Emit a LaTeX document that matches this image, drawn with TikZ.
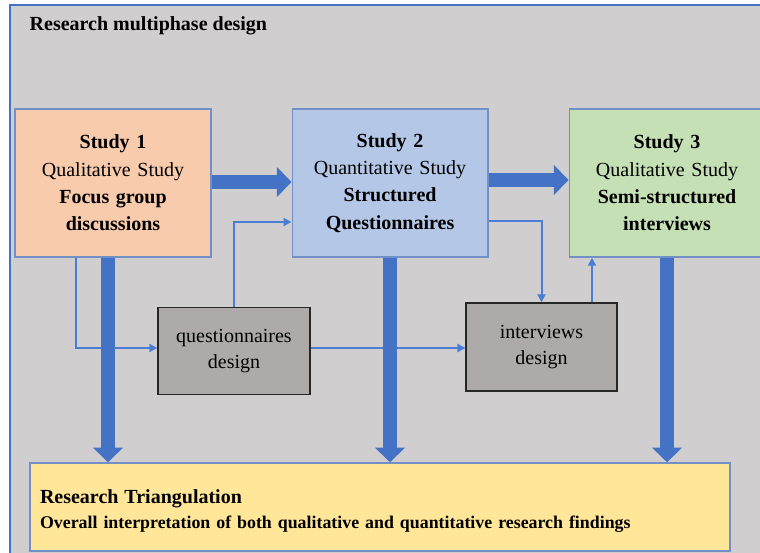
\documentclass[tikz,border=0pt]{standalone}
\usepackage{fontspec}
\setmainfont{Liberation Serif}
\definecolor{panelGray}{HTML}{D0CECE}
\definecolor{frameBlue}{HTML}{4472C4}
\definecolor{edgeBlue}{HTML}{7191C6}
\definecolor{arrowBlue}{HTML}{4472C4}
\definecolor{lineBlue}{HTML}{4A7DD6}
\definecolor{studyOrange}{HTML}{F8CBAD}
\definecolor{studyBlue}{HTML}{B4C7E7}
\definecolor{studyGreen}{HTML}{C5E0B4}
\definecolor{designGray}{HTML}{AEAAAA}
\definecolor{triYellow}{HTML}{FFE699}
\usetikzlibrary{positioning,arrows.meta}

\begin{document}
\begin{tikzpicture}[
  x=0.75pt, y=-0.75pt,
  node distance=60pt,
  study/.style={
    draw=edgeBlue, line width=1.1pt, text width=140pt, align=center,
    minimum width=145.5pt, minimum height=111pt,
    font=\fontsize{15}{20.5}\selectfont
  },
  designbox/.style={
    draw=black!85, fill=designGray, line width=1.1pt, align=center,
    minimum width=114pt, minimum height=65pt,
    font=\fontsize{15}{19}\selectfont
  },
  bigarr/.style={-{Triangle[width=22pt,length=11pt]}, draw=arrowBlue, line width=10.5pt},
  thinarr/.style={-{Triangle[width=6pt,length=6pt]}, draw=lineBlue, line width=1.5pt}
]
  \useasboundingbox (0,0) rectangle (760,553);
  \draw[draw=frameBlue, fill=panelGray, line width=1pt] (10,5) rectangle (775,570);
  \node[anchor=base west, font=\fontsize{15}{18}\selectfont\bfseries] (title) at (25,30) {Research multiphase design};

  \node[study, fill=studyOrange] (s1) at (113,183) {\textbf{Study 1}\\Qualitative Study\\\textbf{Focus group}\\\textbf{discussions}};
  \node[study, fill=studyBlue, right=of s1] (s2) {\textbf{Study 2}\\Quantitative Study\\\textbf{Structured}\\\textbf{Questionnaires}};
  \node[study, fill=studyGreen, right=of s2] (s3) {\textbf{Study 3}\\Qualitative Study\\\textbf{Semi-structured}\\\textbf{interviews}};

  \node[designbox] (qd) at (234,351) {questionnaires\\design};
  \node[designbox, minimum width=113pt, minimum height=66pt] (id) at (541.5,347) {interviews\\design};

  \node[draw=edgeBlue, fill=triYellow, line width=1.1pt, minimum width=525pt, minimum height=66pt,
        text width=510pt, inner xsep=7.5pt, align=left,
        font=\fontsize{13.4}{18.75}\selectfont\bfseries] (tri) at (380,507)
        {{\fontsize{15}{18}\selectfont\rule{0pt}{16.5pt}Research Triangulation}\\Overall interpretation of both qualitative and quantitative research findings};

  % thin links through the design steps
  \draw[thinarr] (s1.south -| 76,0) |- (qd.west |- 0,348);
  \draw[thinarr] (qd.north) |- (s2.west |- 0,222);
  \draw[thinarr] (qd.east |- 0,348) -- (id.west |- 0,348);
  \draw[thinarr] (s2.east |- 0,221) -| (id.north);
  \draw[thinarr] (id.north -| 592,0) -- (s3.south -| 592,0);

  % main flow
  \draw[bigarr] (s1.east |- 0,182) -- (s2.west |- 0,182);
  \draw[bigarr] (s2.east |- 0,180) -- (s3.west |- 0,180);
  \draw[bigarr] (s1.south -| 108,0) -- (tri.north -| 108,0);
  \draw[bigarr] (s2.south) -- (tri.north -| s2.south);
  \draw[bigarr] (s3.south) -- (tri.north -| s3.south);
\end{tikzpicture}
\end{document}
